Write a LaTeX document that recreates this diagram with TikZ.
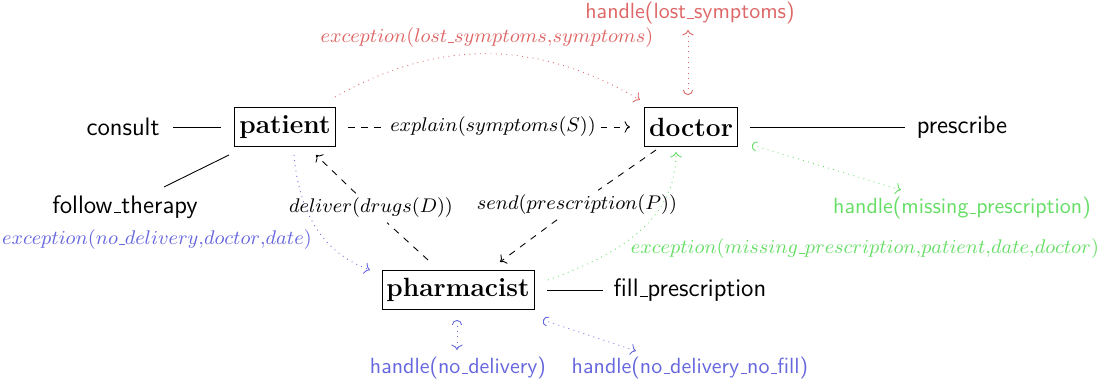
\documentclass[tikz,border=0pt]{standalone}
\usepackage{amsmath}
\usepackage{tikz}
\usetikzlibrary{shapes}
\usetikzlibrary{arrows.meta}
\pgfdeclarelayer{edgelayer}
\pgfdeclarelayer{nodelayer}
\pgfsetlayers{edgelayer,nodelayer,main}
\newcommand{\usc}{\kern.06em\vbox{\hrule width.3em}}
\tikzstyle{none}=[inner sep=0pt]
\tikzstyle{agent}=[rectangle, draw, fill=white, font=\large\bfseries, inner xsep=2pt, minimum height=6.2mm]
\tikzstyle{role}=[inner sep=0pt, font=\fontsize{11.5}{13}\selectfont\sffamily]
\tikzstyle{handle}=[inner sep=0pt, font=\fontsize{10}{12}\selectfont\sffamily]
\tikzstyle{msg}=[inner sep=2pt, font=\fontsize{8.7}{10}\selectfont]
\tikzstyle{msgline}=[dashed, ->]
\tikzstyle{exline}=[dotted, ->]
\tikzstyle{handleline}=[dotted, {Arc Barb[]}->]
\definecolor{lightred}{rgb}{0.87,0.4,0.4}
\definecolor{lightgreen}{rgb}{0.4,0.87,0.4}
\definecolor{lightblue}{rgb}{0.4,0.4,0.87}

\begin{document}
\begin{tikzpicture}[x=0.8cm, y=0.8cm]
	\useasboundingbox (-11.08,-3.86) rectangle (11.08,3.84);
	\begin{pgfonlayer}{nodelayer}
		\node [style=agent] (0) at (-5.38, 1.30) {patient};
		\node [style=agent] (1) at (2.74, 1.30) {doctor};
		\node [style=agent] (2) at (-1.92, -1.96) {pharmacist};
		\node [style=role] (3) at (-8.62, 1.30) {consult};
		\node [style=role] (4) at (8.16, 1.30) {prescribe};
		\node [style=role] (5) at (-8.58, -0.30) {follow\usc therapy};
		\node [style=role] (6) at (2.72, -1.96) {fill\usc prescription};
		\node [style=none] (7) at (-7.62, 1.30) {};
		\node [style=none] (8) at (-6.66, 1.30) {};
		\node [style=none] (9) at (3.92, 1.30) {};
		\node [style=none] (10) at (7.02, 1.30) {};
		\node [style=none] (11) at (-7.80, 0.10) {};
		\node [style=none] (12) at (-6.50, 0.74) {};
		\node [style=none] (13) at (-0.14, -1.96) {};
		\node [style=none] (14) at (0.98, -1.96) {};
		\node [style=none] (15) at (-4.12, 1.30) {};
		\node [style=none] (16) at (1.52, 1.30) {};
		\node [style=msg] (17) at (-1.22, 1.30) {$explain(symptoms(S))$};
		\node [style=none] (18) at (2.04, 0.84) {};
		\node [style=none] (19) at (-1.08, -1.40) {};
		\node [style=msg] (20) at (0.46, -0.26) {$send(prescription(P))$};
		\node [style=none] (21) at (-2.52, -1.36) {};
		\node [style=none] (22) at (-4.76, 0.74) {};
		\node [style=msg] (23) at (-3.66, -0.32) {$deliver(drugs(D))$};
		\node [style=none] (24) at (-4.38, 1.90) {};
		\node [style=none] (25) at (1.72, 1.84) {};
		\node [style=msg, text=lightred] (26) at (-1.34, 3.08) {$exception(lost\usc symptoms{,}symptoms)$};
		\node [style=none] (27) at (2.68, 1.94) {};
		\node [style=none] (28) at (2.68, 3.24) {};
		\node [style=handle, text=lightred] (29) at (2.72, 3.58) {handle(lost\usc symptoms)};
		\node [style=none] (30) at (-5.20, 0.74) {};
		\node [style=none] (31) at (-3.68, -1.56) {};
		\node [style=msg, text=lightblue] (32) at (-7.94, -0.96) {$exception(no\usc delivery{,}doctor{,}date)$};
		\node [style=none] (33) at (-0.12, -1.76) {};
		\node [style=none] (34) at (2.44, 0.80) {};
		\node [style=msg, text=lightgreen] (35) at (6.22, -1.14) {$exception(missing\usc prescription{,}patient{,}date{,}doctor)$};
		\node [style=none] (36) at (3.96, 0.94) {};
		\node [style=none] (37) at (6.94, 0.04) {};
		\node [style=handle, text=lightgreen] (38) at (8.16, -0.32) {handle(missing\usc prescription)};
		\node [style=none] (39) at (-1.94, -2.56) {};
		\node [style=none] (40) at (-1.94, -3.16) {};
		\node [style=handle, text=lightblue] (41) at (-1.92, -3.52) {handle(no\usc delivery)};
		\node [style=none] (42) at (-0.22, -2.56) {};
		\node [style=none] (43) at (1.64, -3.18) {};
		\node [style=handle, text=lightblue] (44) at (2.72, -3.52) {handle(no\usc delivery\usc no\usc fill)};
	\end{pgfonlayer}
	\begin{pgfonlayer}{edgelayer}
		\draw (7.center) to (8.center);
		\draw (9.center) to (10.center);
		\draw (11.center) to (12.center);
		\draw (13.center) to (14.center);
		\draw [dashed] (15.center) to (17);
		\draw [style=msgline] (17) to (16.center);
		\draw [dashed] (18.center) to (20);
		\draw [style=msgline] (20) to (19.center);
		\draw [dashed] (21.center) to (23);
		\draw [style=msgline] (23) to (22.center);
		\draw [style=exline, lightred] (24.center) to [bend left=30] (25.center);
		\draw [style=handleline, lightred] (27.center) to (28.center);
		\draw [style=exline, lightblue] (30.center) to [out=-85, in=160] (31.center);
		\draw [style=exline, lightgreen] (33.center) to [out=20, in=-90] (34.center);
		\draw [style=handleline, lightgreen] (36.center) to (37.center);
		\draw [style=handleline, lightblue] (39.center) to (40.center);
		\draw [style=handleline, lightblue] (42.center) to (43.center);
	\end{pgfonlayer}
\end{tikzpicture}
\end{document}
